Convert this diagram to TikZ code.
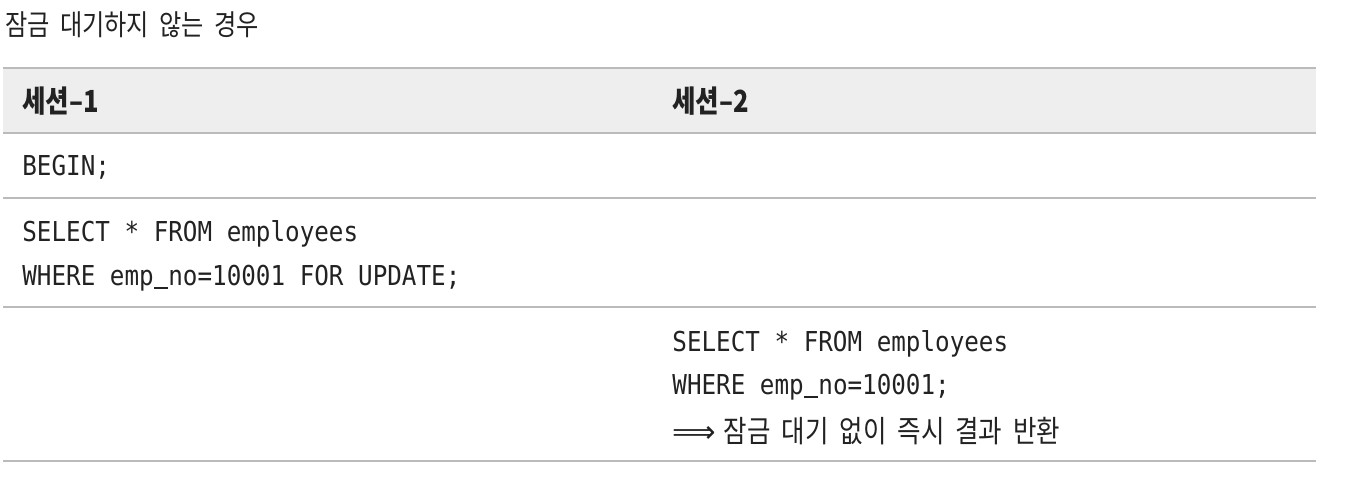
\documentclass[tikz,border=0pt]{standalone}
\usepackage{fontspec}
\setmainfont[FakeStretch=0.84,WordSpace=1.9]{Noto Sans CJK KR}
\newfontfamily\sqlfont[FakeStretch=0.885]{DejaVu Sans Mono}
\newfontfamily\arrowfont{DejaVu Sans}
\definecolor{rulegray}{HTML}{BBBBBB}
\definecolor{headgray}{HTML}{EEEEEE}
\definecolor{ink}{HTML}{222222}
\newcommand{\us}{\makebox[0.533em][c]{\rule[-0.13em]{0.5em}{0.07em}}}
\begin{document}
\begin{tikzpicture}[x=0.5pt,y=-0.5pt,
  txt/.style={anchor=base west,inner sep=0pt,text=ink,font=\fontsize{15.2}{18}\selectfont},
  head/.style={txt,font=\fontsize{15.2}{18}\selectfont\bfseries},
  sql/.style={anchor=base west,inner sep=0pt,text=ink,font=\fontsize{13.7}{16}\sqlfont},
  rule/.style={draw=rulegray,line width=1pt}]
\useasboundingbox (0,0) rectangle (1348,482);
% header band
\fill[headgray] (3,68) rectangle (1316,133);
\foreach \y in {68,133,198,307,461}
  \draw[rule] (3,\y) -- (1316,\y);
\node[txt,font=\fontsize{14.4}{17}\selectfont] (title) at (5,35) {잠금 대기하지 않는 경우};
\node[head] (head1) at (22,112) {세션–1};
\node[head] (head2) at (672,112) {세션–2};
% session 1
\node[sql] (begin1) at (22,175) {BEGIN;};
\node[sql] (select1) at (22,241) {SELECT * FROM employees};
\node[sql] (where1) at (22,285) {WHERE emp\us no=10001 FOR UPDATE;};
% session 2
\node[sql] (select2) at (672,351) {SELECT * FROM employees};
\node[sql] (where2) at (672,394) {WHERE emp\us no=10001;};
\node[txt] (result2) at (672,442) {{\arrowfont ⟹}\hspace{4pt}잠금 대기 없이 즉시 결과 반환};
\end{tikzpicture}
\end{document}
